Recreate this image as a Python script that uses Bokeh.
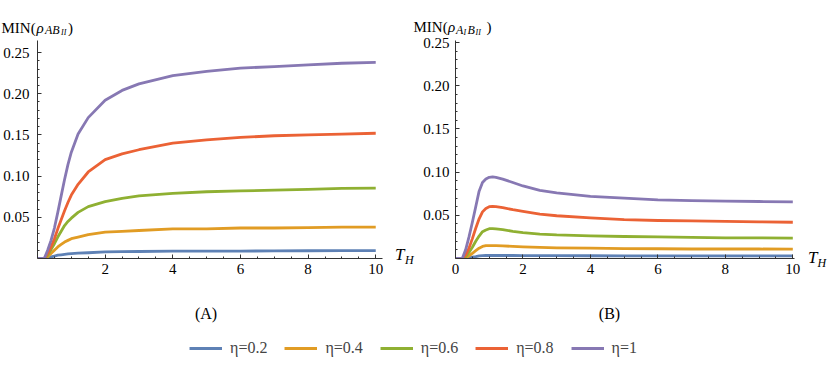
import numpy as np
from bokeh.plotting import figure
from bokeh.models import Label, Range1d, FixedTicker, Legend, LegendItem, Div
from bokeh.layouts import column, row
from bokeh.embed import file_html
from bokeh.resources import INLINE

# ---------------- data ----------------
T_A = [0, 0.2, 0.3, 0.4, 0.5, 0.6, 0.7, 0.8, 0.9, 1.0, 1.2, 1.5, 2, 2.5, 3, 4, 5, 6, 7, 8, 9, 10]
A_eta02 = [0, 0, 0.001, 0.002, 0.003, 0.004, 0.0045, 0.005, 0.0055, 0.006, 0.0065, 0.007, 0.008, 0.0083, 0.0085,
           0.009, 0.009, 0.009, 0.0092, 0.0094, 0.0095, 0.0095]
A_eta04 = [0, 0, 0.002, 0.006, 0.010, 0.014, 0.017, 0.020, 0.022, 0.024, 0.026, 0.029, 0.032, 0.033, 0.034,
           0.036, 0.036, 0.037, 0.037, 0.0375, 0.038, 0.038]
A_eta06 = [0, 0, 0.004, 0.011, 0.018, 0.026, 0.033, 0.040, 0.045, 0.049, 0.056, 0.063, 0.069, 0.073, 0.076,
           0.079, 0.081, 0.082, 0.083, 0.084, 0.085, 0.0855]
A_eta08 = [0, 0, 0.006, 0.014, 0.024, 0.036, 0.047, 0.058, 0.068, 0.077, 0.090, 0.105, 0.120, 0.127, 0.132,
           0.140, 0.144, 0.147, 0.149, 0.150, 0.151, 0.152]
A_eta1 = [0, 0, 0.010, 0.022, 0.037, 0.056, 0.076, 0.096, 0.114, 0.129, 0.151, 0.171, 0.192, 0.204, 0.212,
          0.222, 0.227, 0.231, 0.233, 0.235, 0.237, 0.238]

T_B = [0, 0.2, 0.3, 0.4, 0.5, 0.6, 0.7, 0.8, 0.9, 1.0, 1.1, 1.2, 1.4, 1.7, 2, 2.5, 3, 4, 5, 6, 7, 8, 9, 10]
B_eta02 = [0, 0, 0.0003, 0.0008, 0.0015, 0.0022, 0.003, 0.0033, 0.0035, 0.0035, 0.0035, 0.0035, 0.0035, 0.0035,
           0.0034, 0.0033, 0.0033, 0.0032, 0.0031, 0.0031, 0.003, 0.003, 0.003, 0.003]
B_eta04 = [0, 0, 0.001, 0.003, 0.006, 0.009, 0.012, 0.014, 0.0148, 0.015, 0.015, 0.015, 0.0147, 0.014,
           0.0135, 0.0128, 0.0123, 0.012, 0.0115, 0.0113, 0.011, 0.011, 0.011, 0.0108]
B_eta06 = [0, 0, 0.002, 0.007, 0.013, 0.020, 0.026, 0.031, 0.033, 0.0345, 0.0345, 0.0342, 0.0335, 0.0315,
           0.030, 0.0283, 0.0273, 0.0263, 0.0255, 0.025, 0.0245, 0.024, 0.024, 0.0236]
B_eta08 = [0, 0, 0.004, 0.012, 0.023, 0.035, 0.046, 0.054, 0.058, 0.060, 0.0603, 0.0601, 0.0588, 0.0565,
           0.0545, 0.0515, 0.0495, 0.047, 0.045, 0.044, 0.0435, 0.043, 0.0425, 0.042]
B_eta1 = [0, 0, 0.010, 0.025, 0.042, 0.060, 0.078, 0.088, 0.092, 0.094, 0.0945, 0.094, 0.092, 0.088,
          0.084, 0.079, 0.076, 0.072, 0.070, 0.068, 0.067, 0.0665, 0.066, 0.0655]

SERIES_LABELS = ["η=0.2", "η=0.4", "η=0.6", "η=0.8", "η=1"]
COLORS = ["#5E81B5", "#E19C24", "#8FB032", "#EB6235", "#8778B3"]

X_TICKS_A = [2, 4, 6, 8, 10]
X_TICKS_B = [0, 2, 4, 6, 8, 10]
Y_TICKS = [0.05, 0.10, 0.15, 0.20, 0.25]
Y_TICK_LABELS = ["0.05", "0.10", "0.15", "0.20", "0.25"]

SERIF = "Liberation Serif"
TICK_FONT = "15px"


def style_axes(p, xticks, ystandoff):
    xminor = [float(v) for v in np.arange(0.5, 10.01, 0.5) if v not in xticks]
    yminor = [round(float(v), 2) for v in np.arange(0.01, 0.2501, 0.01) if round(v, 2) not in Y_TICKS]
    p.xaxis.ticker = FixedTicker(ticks=xticks, minor_ticks=xminor)
    p.yaxis.ticker = FixedTicker(ticks=Y_TICKS, minor_ticks=yminor)
    p.yaxis.major_label_overrides = {t: s for t, s in zip(Y_TICKS, Y_TICK_LABELS)}
    for ax in (p.xaxis, p.yaxis):
        ax.axis_line_color = "#333333"
        ax.major_tick_line_color = "#333333"
        ax.minor_tick_line_color = "#333333"
        ax.major_tick_in = 4
        ax.major_tick_out = 0
        ax.minor_tick_in = 2
        ax.minor_tick_out = 0
        ax.major_label_text_font = SERIF
        ax.major_label_text_font_size = TICK_FONT
        ax.major_label_text_color = "black"
    p.xaxis.major_label_standoff = 5
    p.yaxis.major_label_standoff = ystandoff
    p.grid.visible = False
    p.outline_line_color = None


def plot_fig(width, height, xr, yr, b):
    return figure(width=width, height=height, output_backend="svg", toolbar_location=None,
                  x_range=Range1d(*xr), y_range=Range1d(*yr),
                  min_border_left=b[0], min_border_right=b[1],
                  min_border_top=b[2], min_border_bottom=b[3])


def text_fig(x0, x1, y0, y1):
    """A blank strip whose data coordinates are page pixels (y grows downward)."""
    p = figure(width=x1 - x0, height=y1 - y0, output_backend="svg", toolbar_location=None,
               x_range=Range1d(x0, x1), y_range=Range1d(y1, y0),
               x_axis_type=None, y_axis_type=None,
               min_border_left=0, min_border_right=0, min_border_top=0, min_border_bottom=0)
    p.outline_line_color = None
    p.grid.visible = False
    return p


def put(p, x, y, text, size, italic=False, align="left"):
    p.add_layout(Label(x=x, y=y, text=text, text_font=SERIF, text_font_size=size,
                       text_font_style="italic" if italic else "normal",
                       text_baseline="alphabetic", text_align=align, text_color="black"))


def th_div(width, height, t_left, t_top, h_left, h_top):
    span = "position:absolute;font-family:'Liberation Serif',serif;font-style:italic;line-height:1;color:black;"
    html = (f'<div style="position:relative;width:{width}px;height:{height}px;">'
            f'<span style="{span}left:{t_left}px;top:{t_top}px;font-size:17px;">T</span>'
            f'<span style="{span}left:{h_left}px;top:{h_top}px;font-size:12px;">H</span></div>')
    return Div(text=html, width=width, height=height, margin=0)


# page layout (page pixels): header 0-36, plots 36-290, captions 290-330, legend 330-366
ROW_TOP, ROW_H = 36, 254
BORD_T, BORD_B = 4, 32          # same for both panels (frames are aligned in a row)
pA = plot_fig(390, ROW_H, (0, 10.2), (0, 0.2646), (37, 8, BORD_T, BORD_B))
pB = plot_fig(382, ROW_H, (0, 10.05), (0, 0.2525), (35, 8, BORD_T, BORD_B))
style_axes(pA, X_TICKS_A, 8)
style_axes(pB, X_TICKS_B, 6)

for ys, c in zip([A_eta02, A_eta04, A_eta06, A_eta08, A_eta1], COLORS):
    pA.line(T_A, ys, line_color=c, line_width=2.8, line_join="round")
for ys, c in zip([B_eta02, B_eta04, B_eta06, B_eta08, B_eta1], COLORS):
    pB.line(T_B, ys, line_color=c, line_width=2.8, line_join="round")

# axis names T_H (HTML blocks between/after the panels)
tagA = th_div(30, ROW_H, 5, 246 - ROW_TOP, 15, 253.5 - ROW_TOP)
tagB = th_div(28, ROW_H, 6, 249 - ROW_TOP, 15.5, 256.5 - ROW_TOP)

# header with the two vertical-axis titles
head = text_fig(0, 830, 0, ROW_TOP)
put(head, 1, 27.5, "MIN(", "15px")
put(head, 36, 27.5, "ρ", "15px", italic=True)
put(head, 44.5, 29.5, "AB", "12px", italic=True)
put(head, 60.5, 31.5, "II", "8px", italic=True)
put(head, 67.5, 27.5, ")", "15px")
put(head, 413, 26, "MIN(", "15px")
put(head, 447.5, 26, "ρ", "15px", italic=True)
put(head, 455.5, 29, "A", "12px", italic=True)
put(head, 463, 31.5, "I", "8px", italic=True)
put(head, 467, 29, "B", "12px", italic=True)
put(head, 475, 31.5, "II", "8px", italic=True)
put(head, 486, 26, ")", "15px")

# panel captions
caps = text_fig(0, 830, 290, 330)
put(caps, 205.5, 312.5, "(A)", "16px", align="center")
put(caps, 609, 312.5, "(B)", "16px", align="center")

# legend strip (legend centred at page x 413, y 348)
pL = text_fig(0, 826, 330, 366)
items = []
for lab, c, ys in zip(SERIES_LABELS, COLORS, [A_eta02, A_eta04, A_eta06, A_eta08, A_eta1]):
    # the series itself, lying outside this strip's visible range, only feeds the legend swatch
    r = pL.line(T_A, ys, line_color=c, line_width=3)
    items.append(LegendItem(label=lab, renderers=[r]))
leg = Legend(items=items, orientation="horizontal", location="center",
             glyph_width=33, glyph_height=16, label_standoff=8, spacing=17,
             label_text_font=SERIF, label_text_font_size="16px",
             background_fill_alpha=0, border_line_color=None, padding=0, margin=0)
pL.add_layout(leg, "center")

layout = column(head, row(pA, tagA, pB, tagB), caps, pL)
open("out.html", "w").write(file_html(layout, INLINE))
